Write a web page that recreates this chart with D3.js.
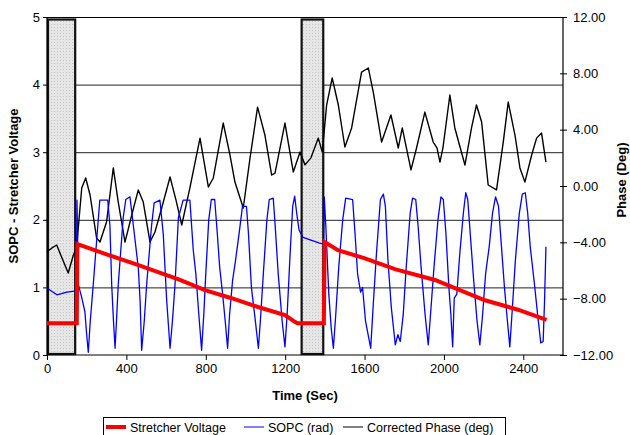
<!DOCTYPE html>
<html>
<head>
<meta charset="utf-8">
<script src="https://cdn.jsdelivr.net/npm/d3@7"></script>
<style>
  body { margin: 0; background: #fff; }
  svg { display: block; font-family: "Liberation Sans", Arial, sans-serif; }
</style>
</head>
<body>
<svg id="chart" width="630" height="435"></svg>
<script>
// time (s) vs. value
const stretcherVoltage = [
  [0, 0.47], [150, 0.47], [153, 1.64], [300, 1.49], [450, 1.34], [670, 1.11],
  [796, 0.96], [930, 0.84], [1063, 0.71], [1199, 0.59], [1249, 0.49], [1262, 0.47],
  [1395, 0.47], [1399, 1.67], [1466, 1.55], [1602, 1.43], [1753, 1.27], [1955, 1.11],
  [2080, 0.96], [2207, 0.81], [2373, 0.67], [2517, 0.52]
];

const sopc = [
  [0, 0.99], [20, 0.95], [50, 0.89], [100, 0.93], [148, 0.95], [151, 2.29], [155, 1.6],
  [158, 1.04], [175, 0.85], [191, 0.64], [200, 0.3], [208, 0.04], [218, 0.5], [233, 1.04],
  [259, 2.03], [266, 2.29], [306, 2.29], [317, 1.92], [326, 1.04], [335, 0.5], [343, 0.1],
  [350, 0.5], [359, 1.04], [384, 2.03], [397, 2.3], [418, 2.34], [435, 1.92], [460, 1.29],
  [469, 0.81], [477, 0.07], [490, 0.5], [502, 1.04], [527, 1.92], [540, 2.25], [569, 2.29],
  [586, 1.78], [603, 0.81], [620, 0.1], [632, 0.5], [645, 1.04], [662, 2.03], [686, 2.29],
  [720, 2.29], [737, 1.55], [750, 1.2], [765, 0.6], [779, 0.07], [790, 0.6], [800, 1.2],
  [815, 2.0], [828, 2.3], [845, 2.3], [858, 1.8], [870, 1.3], [885, 0.9], [898, 0.5],
  [910, 0.1], [920, 0.6], [935, 1.1], [950, 1.4], [968, 1.8], [985, 2.2], [1005, 2.2],
  [1015, 1.8], [1030, 1.0], [1050, 0.5], [1065, 0.1], [1075, 0.5], [1090, 1.2], [1108, 2.0],
  [1120, 2.3], [1140, 2.32], [1150, 1.9], [1165, 1.2], [1185, 0.5], [1199, 0.12], [1210, 0.6],
  [1225, 1.5], [1238, 2.2], [1248, 2.35], [1258, 2.1], [1270, 1.85], [1290, 1.74], [1330, 1.70],
  [1370, 1.66], [1394, 1.64], [1397, 2.34], [1405, 1.9], [1420, 0.9], [1432, 0.4], [1443, 0.1],
  [1455, 0.6], [1470, 1.3], [1490, 2.0], [1505, 2.32], [1540, 2.3], [1552, 1.8], [1565, 1.2],
  [1580, 0.93], [1590, 1.0], [1605, 0.5], [1631, 0.1], [1645, 0.8], [1660, 1.5], [1680, 2.3],
  [1695, 2.38], [1705, 2.2], [1718, 1.4], [1735, 0.7], [1755, 0.15], [1768, 0.3], [1780, 0.2],
  [1795, 0.6], [1810, 1.3], [1830, 2.1], [1842, 2.32], [1858, 2.3], [1870, 1.9], [1885, 1.3],
  [1905, 0.6], [1921, 0.15], [1935, 0.7], [1950, 1.3], [1970, 2.0], [1985, 2.34], [1997, 2.3],
  [2010, 1.8], [2025, 1.0], [2035, 0.6], [2044, 0.12], [2052, 0.84], [2065, 0.9], [2080, 1.5],
  [2098, 2.1], [2110, 2.4], [2120, 2.3], [2135, 1.7], [2150, 1.1], [2167, 0.5], [2181, 0.15],
  [2195, 0.6], [2210, 1.2], [2228, 1.6], [2245, 2.1], [2260, 2.34], [2275, 2.2], [2290, 1.6],
  [2305, 1.0], [2320, 0.5], [2332, 0.12], [2345, 0.7], [2360, 1.4], [2380, 2.1], [2395, 2.38],
  [2410, 2.4], [2422, 2.1], [2435, 1.6], [2455, 1.08], [2472, 0.6], [2488, 0.18], [2500, 0.2],
  [2507, 0.8], [2514, 1.6]
];

// degrees, right axis
const correctedPhase = [
  [0, -4.67], [25, -4.4], [49, -4.19], [75, -5.1], [107, -6.18], [133, -4.9], [149, -4.4],
  [175, -0.14], [195, 0.57], [217, -0.64], [250, -3.7], [267, -3.98], [300, -2.56], [334, 1.28],
  [359, -1.14], [393, -3.98], [427, -2.06], [460, -0.28], [485, -1.14], [519, -3.98],
  [544, -3.27], [578, -1.56], [620, 0.64], [650, -1.0], [679, -2.77], [720, -0.14], [771, 3.4],
  [813, -0.07], [838, 0.57], [888, 4.47], [922, 2.2], [947, 0.28], [989, -1.56], [1023, 1.99],
  [1061, 5.6], [1098, 3.62], [1132, 0.78], [1149, 0.92], [1199, 4.47], [1241, 1.0],
  [1275, 2.41], [1300, 1.5], [1330, 2.0], [1367, 3.4], [1387, 2.41], [1409, 5.75], [1437, 7.67],
  [1468, 5.75], [1501, 2.77], [1535, 4.12], [1585, 8.09], [1619, 8.38], [1644, 6.67],
  [1686, 3.12], [1733, 5.04], [1770, 2.7], [1790, 4.12], [1834, 1.14], [1862, 2.7], [1904, 5.25],
  [1946, 3.12], [1965, 2.7], [1980, 1.7], [1995, 2.7], [2030, 6.46], [2055, 4.12], [2106, 1.49],
  [2139, 4.12], [2164, 5.75], [2190, 4.54], [2223, 0.07], [2265, -0.28], [2299, 3.12],
  [2324, 5.96], [2358, 3.62], [2383, 1.28], [2408, 0.28], [2442, 2.2], [2467, 3.4], [2492, 3.76],
  [2514, 1.7]
];

// calibration windows (s)
const windows = [[0, 142], [1278, 1392]];

const xTicks = [0, 400, 800, 1200, 1600, 2000, 2400];
const leftTicks = [0, 1, 2, 3, 4, 5];
const rightTicks = [-12, -8, -4, 0, 4, 8, 12];

const legendItems = [
  { label: 'Stretcher Voltage', color: '#ff0000', width: 4 },
  { label: 'SOPC (rad)', color: '#0000ff', width: 1 },
  { label: 'Corrected Phase (deg)', color: '#000000', width: 1 }
];

const margin = { left: 47, right: 563, top: 17, bottom: 355 };

const svg = d3.select('#chart');

const x = d3.scaleLinear().domain([0, 2600]).range([margin.left, margin.right]);
const yLeft = d3.scaleLinear().domain([0, 5]).range([margin.bottom, margin.top]);
const yRight = d3.scaleLinear().domain([-12, 12]).range([margin.bottom, margin.top]);

// dotted grey fill for the windows
const defs = svg.append('defs');
const pat = defs.append('pattern')
  .attr('id', 'dots')
  .attr('width', 3).attr('height', 3)
  .attr('patternUnits', 'userSpaceOnUse');
pat.append('rect').attr('width', 3).attr('height', 3).attr('fill', '#e6e6e6');
pat.append('rect').attr('width', 1).attr('height', 1).attr('fill', '#c4c4c4');

// grid lines
svg.append('g')
  .selectAll('line')
  .data([1, 2, 3, 4])
  .join('line')
  .attr('x1', margin.left).attr('x2', margin.right)
  .attr('y1', d => yLeft(d) + 0.5).attr('y2', d => yLeft(d) + 0.5)
  .attr('stroke', '#222').attr('stroke-width', 1);

// top border
svg.append('line')
  .attr('x1', margin.left).attr('x2', margin.right)
  .attr('y1', margin.top + 0.5).attr('y2', margin.top + 0.5)
  .attr('stroke', '#000').attr('stroke-width', 1.2);

svg.append('g')
  .selectAll('rect')
  .data(windows)
  .join('rect')
  .attr('x', d => x(d[0]) + 1)
  .attr('width', d => x(d[1]) - x(d[0]) - 1)
  .attr('y', margin.top + 2.5)
  .attr('height', margin.bottom - margin.top - 3.5)
  .attr('fill', 'url(#dots)')
  .attr('stroke', '#111')
  .attr('stroke-width', 2.2);

// axes
const xAxis = svg.append('g')
  .attr('transform', 'translate(0,' + margin.bottom + ')')
  .call(d3.axisBottom(x).tickValues(xTicks).tickSize(5).tickPadding(4).tickFormat(d3.format('d')));

const leftAxis = svg.append('g')
  .attr('transform', 'translate(' + margin.left + ',0)')
  .call(d3.axisLeft(yLeft).tickValues(leftTicks).tickSize(4).tickPadding(3).tickFormat(d3.format('d')));

const rightAxis = svg.append('g')
  .attr('transform', 'translate(' + margin.right + ',0)')
  .call(d3.axisRight(yRight).tickValues(rightTicks).tickSize(4).tickPadding(6).tickFormat(d3.format('.2f')));

[xAxis, leftAxis, rightAxis].forEach(function (g) {
  g.select('.domain').attr('stroke', '#000').attr('stroke-width', 1.2);
  g.selectAll('text').attr('font-size', 13).attr('fill', '#000')
    .attr('font-family', '"Liberation Sans", Arial, sans-serif');
});
rightAxis.selectAll('.tick line').attr('x1', -3);
rightAxis.select('.domain').attr('d', 'M0,' + margin.top + 'V' + margin.bottom);
leftAxis.select('.domain').attr('d', 'M0,' + margin.top + 'V' + margin.bottom);
xAxis.select('.domain').attr('d', 'M' + margin.left + ',0H' + margin.right);

// series
const lineLeft = d3.line().x(d => x(d[0])).y(d => yLeft(d[1]));
const lineRight = d3.line().x(d => x(d[0])).y(d => yRight(d[1]));

svg.append('path')
  .datum(correctedPhase)
  .attr('d', lineRight)
  .attr('fill', 'none')
  .attr('stroke', '#000')
  .attr('stroke-width', 1.4)
  .attr('stroke-linejoin', 'round');

svg.append('path')
  .datum(sopc)
  .attr('d', lineLeft)
  .attr('fill', 'none')
  .attr('stroke', '#0000ff')
  .attr('stroke-width', 1.3)
  .attr('stroke-linejoin', 'round');

svg.append('path')
  .datum(stretcherVoltage)
  .attr('d', lineLeft)
  .attr('fill', 'none')
  .attr('stroke', '#ff0000')
  .attr('stroke-width', 4);

// titles
svg.append('text')
  .attr('transform', 'translate(18,' + ((margin.top + margin.bottom) / 2) + ') rotate(-90)')
  .attr('text-anchor', 'middle')
  .attr('font-size', 13).attr('font-weight', 'bold')
  .text('SOPC - Stretcher Voltage');

svg.append('text')
  .attr('transform', 'translate(626,' + ((margin.top + margin.bottom) / 2 - 6) + ') rotate(-90)')
  .attr('text-anchor', 'middle')
  .attr('font-size', 13).attr('font-weight', 'bold')
  .text('Phase (Deg)');

svg.append('text')
  .attr('x', (margin.left + margin.right) / 2)
  .attr('y', 400)
  .attr('text-anchor', 'middle')
  .attr('font-size', 13).attr('font-weight', 'bold')
  .text('Time (Sec)');

// legend
const legend = svg.append('g');
legend.append('rect')
  .attr('x', 103.5).attr('y', 417.5)
  .attr('width', 402).attr('height', 20)
  .attr('fill', '#fff').attr('stroke', '#000').attr('stroke-width', 1);

const legendX = [106, 244, 343];
legendItems.forEach(function (item, i) {
  const lx = legendX[i];
  legend.append('line')
    .attr('x1', lx).attr('x2', lx + 20)
    .attr('y1', 427).attr('y2', 427)
    .attr('stroke', item.color).attr('stroke-width', item.width);
  legend.append('text')
    .attr('x', lx + 24).attr('y', 431.5)
    .attr('font-size', 12.5)
    .text(item.label);
});
</script>
</body>
</html>
